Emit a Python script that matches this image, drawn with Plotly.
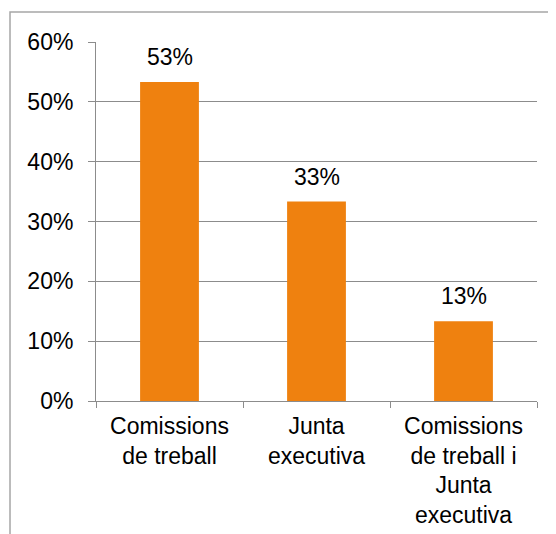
import plotly.graph_objects as go

categories = ["Comissions<br>de treball", "Junta<br>executiva", "Comissions<br>de treball i<br>Junta<br>executiva"]
shares = [0.5333, 0.3333, 0.1333]
labels = ["53%", "33%", "13%"]

bar_color = "#EF810F"
grid_color = "#8C8C8C"
font = dict(family="Liberation Sans, Arial, sans-serif", size=23, color="#000000")

fig = go.Figure()
fig.add_trace(go.Bar(x=categories, y=shares, marker_color=bar_color, marker_line_width=0))

for cat, val, lab in zip(categories, shares, labels):
    fig.add_annotation(x=cat, y=val, text=lab, showarrow=False,
                       yanchor="bottom", yshift=10, font=font)

# outer chart border (cropped on the right and bottom like the original)
fig.add_shape(type="rect", xref="paper", yref="paper",
              x0=-0.195, y0=-0.6, x1=1.2, y1=1.0836,
              line=dict(color="#A6A6A6", width=1.5), layer="below")

# page body has an 8px margin, so the plot area is offset accordingly
fig.update_layout(
    width=556, height=534,
    margin=dict(l=88, r=27, t=34, b=141),
    plot_bgcolor="white", paper_bgcolor="white",
    font=font,
    bargap=0.6,
    showlegend=False,
)
fig.update_yaxes(range=[0, 0.6], dtick=0.1, tickformat=".0%",
                 showgrid=True, gridcolor=grid_color, gridwidth=1,
                 showline=True, linecolor=grid_color, linewidth=1,
                 ticks="outside", ticklen=7, tickcolor=grid_color,
                 ticklabelstandoff=10, zeroline=False, automargin=False)
fig.update_xaxes(showline=True, linecolor=grid_color, linewidth=1,
                 ticks="outside", ticklen=6, tickcolor=grid_color,
                 tickson="boundaries", showgrid=False, automargin=False,
                 ticklabelstandoff=4)

fig.write_html("out.html")
